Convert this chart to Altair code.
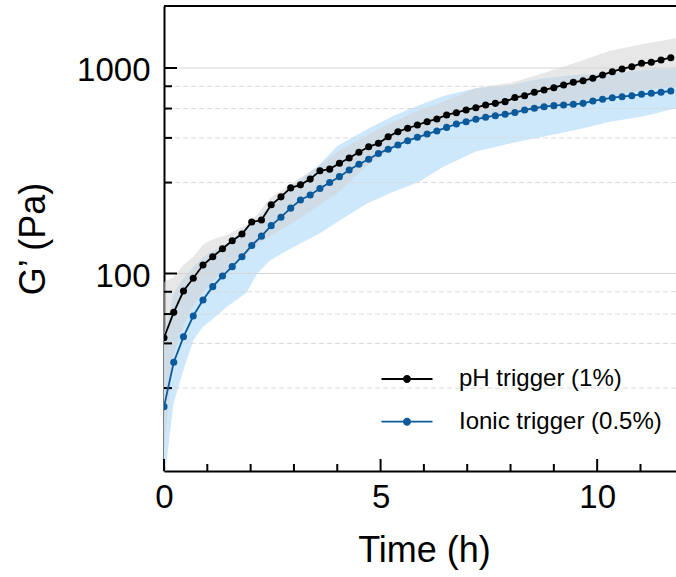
import altair as alt
import pandas as pd

# ---------------- data ----------------
time_h = [0.0, 0.225, 0.45, 0.675, 0.9, 1.125, 1.35, 1.575, 1.8, 2.025,
          2.25, 2.475, 2.7, 2.925, 3.15, 3.375, 3.6, 3.825, 4.05, 4.275,
          4.5, 4.725, 4.95, 5.175, 5.4, 5.625, 5.85, 6.075, 6.3, 6.525,
          6.75, 6.975, 7.2, 7.425, 7.65, 7.875, 8.1, 8.325, 8.55, 8.775,
          9.0, 9.225, 9.45, 9.675, 9.9, 10.125, 10.35, 10.575, 10.8, 11.025,
          11.25, 11.475, 11.7]

ph_g = [48.7, 64.7, 82.2, 94.8, 110, 120.7, 132, 144.4, 155.7, 178,
        182, 216, 236, 261, 270, 288, 316, 322, 344, 365,
        389, 414, 430, 463, 490, 509, 528, 548, 565, 591,
        606, 625, 641, 661, 673, 686, 718, 733, 762, 782,
        802, 827, 852, 867, 891, 925, 959, 989, 1015, 1054,
        1066, 1094, 1122]

ionic_g = [22.5, 37, 49.2, 62.1, 74.3, 86.3, 97.2, 108, 120.7, 137,
           152, 171, 188, 208, 228, 241, 259, 277, 296, 319,
           340, 360, 384, 402, 422, 443, 460, 477, 494, 514,
           534, 548, 563, 576, 586, 595, 607, 625, 637, 648,
           656, 661, 666, 673, 691, 704, 717, 725, 733, 745,
           753, 762, 773]

band_t = [0, 0.22, 0.45, 0.68, 0.9, 1.1, 1.45, 1.9, 2.15, 2.45, 3.0, 3.6,
          4.0, 4.7, 5.3, 5.9, 6.45, 7.2, 8.0, 8.75, 9.5, 10.3, 11.05, 11.82]
ph_hi = [91, 96, 110, 121, 138, 146, 154, 172, 193, 233, 279, 337,
         390, 472, 546, 625, 683, 800, 845, 942, 1061, 1214, 1309, 1395]
ph_lo = [14, 40, 56, 70, 81, 91, 104, 123, 138, 152, 178, 216,
         246, 337, 408, 472, 528, 558, 590, 625, 676, 731, 781, 808]
ionic_hi = [50, 80, 95, 108, 120, 128, 140, 165, 185, 215, 270, 340,
            417, 505, 585, 660, 730, 797, 827, 891, 925, 942, 978, 997]
ionic_lo = [9.5, 23.4, 33.9, 47.5, 55, 59.4, 69, 80.4, 100, 116, 135, 157,
            178, 220, 250, 280, 331, 392, 430, 463, 499, 548, 580, 637]

series_names = ["pH trigger (1%)", "Ionic trigger (0.5%)"]
series_colors = ["#000000", "#0a5a9c"]

y_major = [100, 1000]
y_minor = [27.7, 45.7, 63.5, 81.5, 277, 457, 635, 815]
x_major = [0, 5, 10]
x_minor = [1, 2, 3, 4, 6, 7, 8, 9, 11]

# ---------------- tables ----------------
df = pd.DataFrame({
    "t": time_h + time_h,
    "g": ph_g + ionic_g,
    "series": [series_names[0]] * len(time_h) + [series_names[1]] * len(time_h),
})
band_ph = pd.DataFrame({"t": band_t, "lo": ph_lo, "hi": ph_hi})
band_ionic = pd.DataFrame({"t": band_t, "lo": ionic_lo, "hi": ionic_hi})
ymaj_df = pd.DataFrame({"v": y_major})
ymin_df = pd.DataFrame({"v": y_minor})
xmaj_df = pd.DataFrame({"v": x_major})
xmin_df = pd.DataFrame({"v": x_minor})

W, H = 512, 465
FONT = "Liberation Sans"

xs = alt.Scale(domain=[0, 11.82], nice=False, zero=False)
ys = alt.Scale(type="log", domain=[10.94, 2003], nice=False)
cs = alt.Scale(domain=series_names, range=series_colors)

x_axis = alt.Axis(values=x_major, format="d", ticks=False, grid=False,
                  domainColor="black", domainWidth=2,
                  labelFontSize=33, labelColor="black", labelPadding=10.5,
                  labelFlush=False, labelOverlap=False, labelFont=FONT,
                  title="Time (h)", titleFontSize=36, titleFontWeight="normal",
                  titleColor="black", titleFont=FONT, titleX=260, titleY=79,
                  titleBaseline="middle", titleAlign="center")
y_axis = alt.Axis(values=y_major, format="d", ticks=False, grid=False,
                  domainColor="black", domainWidth=2,
                  labelFontSize=33, labelColor="black", labelPadding=14,
                  labelFlush=False, labelOverlap=False, labelFont=FONT,
                  labelOffset=3,
                  title="G’ (Pa)", titleFontSize=36, titleFontWeight="normal",
                  titleColor="black", titleFont=FONT, titleX=-131, titleY=232.5,
                  titleAngle=270, titleBaseline="middle", titleAlign="center")


def X(field):
    return alt.X(field, scale=xs, axis=x_axis)


def Y(field):
    return alt.Y(field, scale=ys, axis=y_axis)


band_i = alt.Chart(band_ionic).mark_area(color="#cde7fb", opacity=1, clip=True).encode(
    x=X("t:Q"), y=Y("lo:Q"), y2="hi:Q")
band_p = alt.Chart(band_ph).mark_area(color="#d4d4d4", opacity=0.55, clip=True).encode(
    x=X("t:Q"), y=Y("lo:Q"), y2="hi:Q")

grid_minor = alt.Chart(ymin_df).mark_rule(color="#d9d9d9", strokeWidth=1, strokeDash=[5, 3]).encode(
    y=Y("v:Q"))
grid_major = alt.Chart(ymaj_df).mark_rule(color="#d6d6d6", strokeWidth=1.2).encode(
    y=Y("v:Q"))

ytick_major = alt.Chart(ymaj_df).mark_rule(color="black", strokeWidth=2).encode(
    y=Y("v:Q"), x=alt.value(0), x2=alt.value(13))
ytick_minor = alt.Chart(ymin_df).mark_rule(color="black", strokeWidth=2).encode(
    y=Y("v:Q"), x=alt.value(0), x2=alt.value(8))
xtick_major = alt.Chart(xmaj_df).mark_rule(color="black", strokeWidth=2).encode(
    x=X("v:Q"), y=alt.value(H), y2=alt.value(H - 12))
xtick_minor = alt.Chart(xmin_df).mark_rule(color="black", strokeWidth=2).encode(
    x=X("v:Q"), y=alt.value(H), y2=alt.value(H - 7))

top_border = alt.Chart(ymaj_df).mark_rule(color="black", strokeWidth=2).encode(
    y=alt.value(0))

line_layers = [
    alt.Chart(df).transform_filter(alt.datum.series == name)
    .mark_line(strokeWidth=1.8, color=col, clip=True)
    .encode(x=X("t:Q"), y=Y("g:Q"))
    for name, col in zip(series_names, series_colors)
]

legend_symbol = ("M-2.55,-0.09H2.55V0.09H-2.55Z "
                 "M0.4,0A0.4,0.4,0,1,1,-0.4,0A0.4,0.4,0,1,1,0.4,0Z")
points = alt.Chart(df).mark_circle(size=50, opacity=1, clip=True).encode(
    x=X("t:Q"), y=Y("g:Q"),
    color=alt.Color("series:N", scale=cs, sort=series_names, legend=alt.Legend(
        title=None, orient="none", legendX=231, legendY=361,
        symbolType=legend_symbol, symbolSize=400, symbolStrokeWidth=0,
        symbolOpacity=1, labelFontSize=24, labelFont=FONT, labelColor="black",
        labelOffset=40, rowPadding=18.7, padding=0, labelLimit=0)),
)

chart = alt.layer(
    band_i, band_p, grid_minor, grid_major,
    ytick_major, ytick_minor, xtick_major, xtick_minor, top_border,
    *line_layers, points,
).properties(
    width=W, height=H,
    autosize=alt.AutoSizeParams(type="none"),
    padding={"left": 164, "top": 6, "right": 0, "bottom": 106},
).configure(font=FONT).configure_view(stroke=None)

chart.save("out.html", embed_options={"renderer": "svg", "actions": False})
